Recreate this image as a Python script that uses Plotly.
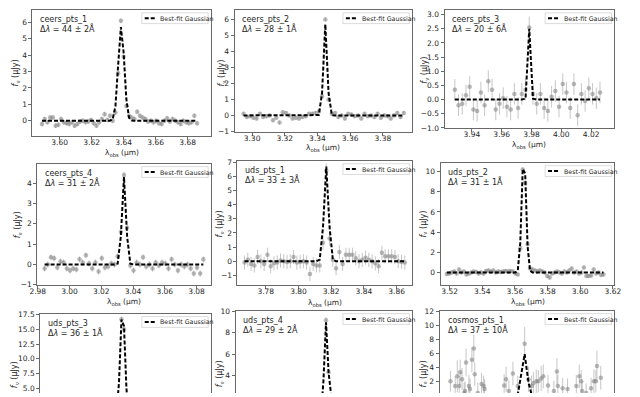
import numpy as np
import plotly.graph_objects as go

W, H = 640, 397

# ---------------- data ----------------
labels = ["ceers_pts_1", "ceers_pts_2", "ceers_pts_3",
          "ceers_pts_4", "uds_pts_1", "uds_pts_2",
          "uds_pts_3", "uds_pts_4", "cosmos_pts_1"]
dlam_text = ["44 ± 2", "28 ± 1", "20 ± 6", "31 ± 2", "33 ± 3", "31 ± 1", "36 ± 1", "29 ± 2", "37 ± 10"]
fit_fwhm_A = [44, 28, 20, 31, 33, 31, 36, 29, 37]
fit_center_um = [3.6385, 3.3448, 3.9785, 3.0343, 3.8170, 3.5655, 3.4830, 3.4564, 3.8175]
fit_amp_uJy = [5.75, 5.7, 2.5, 4.3, 6.7, 11.8, 18.5, 9.0, 5.9]

wave_1 = [3.5890, 3.5907, 3.5924, 3.5941, 3.5958, 3.5975, 3.5992, 3.6009, 3.6026, 3.6043,
          3.6060, 3.6077, 3.6094, 3.6111, 3.6128, 3.6145, 3.6162, 3.6179, 3.6196, 3.6213,
          3.6230, 3.6247, 3.6264, 3.6281, 3.6298, 3.6315, 3.6332, 3.6349, 3.6366, 3.6383,
          3.6400, 3.6417, 3.6434, 3.6451, 3.6468, 3.6485, 3.6502, 3.6519, 3.6536, 3.6553,
          3.6570, 3.6587, 3.6604, 3.6621, 3.6638, 3.6655, 3.6672, 3.6689, 3.6706, 3.6723,
          3.6740, 3.6757, 3.6774, 3.6791, 3.6808, 3.6825, 3.6842, 3.6859]
flux_1 = [-0.2, 0.1, -0.1, 0.2, 0.2, -0.3, -0.25, 0.1, -0.1, -0.15,
          -0.2, -0.1, -0.3, -0.2, -0.05, 0.0, -0.1, -0.05, 0.05, -0.15,
          -0.3, -0.1, 0.1, 0.4, 0.05, 0.3, 0.0, 0.5, 2.9, 6.1,
          3.9, 0.9, 0.3, 0.2, 0.1, 0.55, 0.3, 0.2, 0.1, -0.05,
          0.0, -0.1, 0.0, -0.15, -0.2, 0.0, 0.15, -0.05, 0.1, 0.0,
          -0.1, -0.2, 0.0, -0.1, -0.15, -0.1, 0.3, -0.15]
err_1 = 0.15

wave_2 = [3.2948, 3.2968, 3.2988, 3.3008, 3.3028, 3.3048, 3.3068, 3.3088, 3.3108, 3.3128,
          3.3148, 3.3168, 3.3188, 3.3208, 3.3228, 3.3248, 3.3268, 3.3288, 3.3308, 3.3328,
          3.3348, 3.3368, 3.3388, 3.3408, 3.3428, 3.3448, 3.3468, 3.3488, 3.3508, 3.3528,
          3.3548, 3.3568, 3.3588, 3.3608, 3.3628, 3.3648, 3.3668, 3.3688, 3.3708, 3.3728,
          3.3748, 3.3768, 3.3788, 3.3808, 3.3828, 3.3848, 3.3868, 3.3888, 3.3908, 3.3928]
flux_2 = [0.1, -0.1, -0.05, -0.15, -0.2, 0.1, -0.1, -0.05, 0.0, -0.3,
          -0.15, -0.45, 0.2, 0.15, 0.0, -0.2, -0.15, -0.2, -0.1, -0.05,
          0.1, 0.1, 0.15, 0.25, 1.2, 6.0, 1.0, 0.1, 0.15, -0.1,
          0.0, -0.2, 0.1, 0.05, -0.05, 0.0, -0.2, 0.1, -0.05, 0.0,
          -0.1, 0.1, -0.15, 0.0, -0.05, -0.2, 0.0, 0.15, -0.1, 0.15]
err_2 = 0.12

wave_3 = [3.9285, 3.9310, 3.9335, 3.9360, 3.9385, 3.9410, 3.9435, 3.9460, 3.9485, 3.9510,
          3.9535, 3.9560, 3.9585, 3.9610, 3.9635, 3.9660, 3.9685, 3.9710, 3.9735, 3.9760,
          3.9785, 3.9810, 3.9835, 3.9860, 3.9885, 3.9910, 3.9935, 3.9960, 3.9985, 4.0010,
          4.0035, 4.0060, 4.0085, 4.0110, 4.0135, 4.0160, 4.0185, 4.0210, 4.0235, 4.0260]
flux_3 = [0.35, -0.2, -0.15, 0.15, 0.45, -0.35, -0.4, 0.25, -0.2, 0.65,
          0.35, -0.35, -0.15, 0.05, -0.25, -0.35, 0.2, -0.3, 0.2, 0.35,
          2.55, 0.2, -0.15, 0.2, -0.3, -0.4, 0.1, 0.3, -0.25, 0.55,
          0.25, -0.3, 0.55, -0.55, 0.2, -0.05, 0.4, 0.2, 0.05, 0.25]
err_3 = 0.38

wave_4 = [2.9843, 2.9863, 2.9883, 2.9903, 2.9923, 2.9943, 2.9963, 2.9983, 3.0003, 3.0023,
          3.0043, 3.0063, 3.0083, 3.0103, 3.0123, 3.0143, 3.0163, 3.0183, 3.0203, 3.0223,
          3.0243, 3.0263, 3.0283, 3.0303, 3.0323, 3.0343, 3.0363, 3.0383, 3.0403, 3.0423,
          3.0443, 3.0463, 3.0483, 3.0503, 3.0523, 3.0543, 3.0563, 3.0583, 3.0603, 3.0623,
          3.0643, 3.0663, 3.0683, 3.0703, 3.0723, 3.0743, 3.0763, 3.0783, 3.0803, 3.0823, 3.0843]
flux_4 = [-0.2, 0.0, 0.35, 0.3, -0.15, 0.15, 0.1, -0.2, -0.3, -0.2,
          -0.25, 0.25, 0.1, 0.45, 0.05, -0.2, 0.1, -0.35, 0.3, -0.15,
          -0.1, 0.05, 0.0, 0.4, 1.6, 4.4, 1.8, -0.05, -0.3, 0.1,
          0.0, 0.35, -0.1, 0.0, -0.2, 0.1, -0.05, 0.1, 0.05, -0.2,
          0.25, 0.0, -0.3, 0.0, -0.1, 0.0, -0.2, -0.45, -0.15, -0.45, 0.25]
err_4 = 0.15

wave_5 = [3.7670, 3.7690, 3.7710, 3.7730, 3.7750, 3.7770, 3.7790, 3.7810, 3.7830, 3.7850,
          3.7870, 3.7890, 3.7910, 3.7930, 3.7950, 3.7970, 3.7990, 3.8010, 3.8030, 3.8050,
          3.8070, 3.8090, 3.8110, 3.8130, 3.8150, 3.8170, 3.8190, 3.8210, 3.8230, 3.8250,
          3.8270, 3.8290, 3.8310, 3.8330, 3.8350, 3.8370, 3.8390, 3.8410, 3.8430, 3.8450,
          3.8470, 3.8490, 3.8510, 3.8530, 3.8550, 3.8570, 3.8590, 3.8610, 3.8630, 3.8650]
flux_5 = [-0.1, 0.1, -0.2, -0.3, 0.3, 0.0, -0.2, 0.45, -0.35, -0.15,
          -0.1, 0.05, 0.0, -0.05, 0.0, 0.3, -0.1, -0.05, 0.0, -0.1,
          -0.9, -0.2, -0.3, -0.3, 1.3, 6.4, 1.6, 0.1, -0.5, 0.65,
          -0.2, 0.45, 0.45, 0.45, 0.2, 0.0, 0.1, 0.25, 0.1, 0.0,
          -0.15, -0.35, 0.6, 0.35, 0.35, 0.35, 0.3, 0.0, -0.05, -0.1]
err_5 = 0.5

wave_6 = [3.51830, 3.51980, 3.52130, 3.52280, 3.52430, 3.52580, 3.52730, 3.52880, 3.53030, 3.53180,
          3.53330, 3.53480, 3.53630, 3.53780, 3.53930, 3.54080, 3.54230, 3.54380, 3.54530, 3.54680,
          3.54830, 3.54980, 3.55130, 3.55280, 3.55430, 3.55580, 3.55730, 3.55880, 3.56030, 3.56180,
          3.56330, 3.56480, 3.56630, 3.56780, 3.56930, 3.57080, 3.57230, 3.57380, 3.57530, 3.57680,
          3.57830, 3.57980, 3.58130, 3.58280, 3.58430, 3.58580, 3.58730, 3.58880, 3.59030, 3.59180,
          3.59330, 3.59480, 3.59630, 3.59780, 3.59930, 3.60080, 3.60230, 3.60380, 3.60530, 3.60680,
          3.60830, 3.60980, 3.61130, 3.61280, 3.61430]
flux_6 = [-0.15, -0.1, 0.0, 0.1, -0.1, 0.3, 0.0, 0.1, -0.2, -0.1,
          0.0, 0.1, 0.05, -0.1, 0.0, -0.1, 0.15, 0.2, 0.1, 0.2,
          0.0, 0.1, 0.05, 0.1, 0.15, 0.1, 0.15, 0.1, -0.1, -0.2,
          2.4, 10.2, 8.9, 2.8, 0.4, 0.3, 0.2, 0.1, 0.2, 0.1,
          0.0, -0.35, -0.5, -0.1, 0.0, 0.1, 0.0, -0.1, 0.1, 0.0,
          0.2, 0.4, 0.0, 0.1, -0.1, 0.0, 0.5, -0.35, -0.35, -0.3,
          0.3, -0.1, 0.0, -0.25, -0.2]
err_6 = 0.2

wave_7 = [3.4775, 3.4791, 3.4807, 3.4823, 3.4839, 3.4855, 3.4871]
flux_7 = [0.1, -0.2, 1.2, 16.7, 15.0, 0.9, 0.2]
err_7 = 0.5

wave_8 = [3.4515, 3.4531, 3.4547, 3.4563, 3.4579, 3.4595, 3.4611]
flux_8 = [0.1, -0.1, 1.9, 9.15, 4.3, 0.3, -0.2]
err_8 = 0.3

wave_9 = [3.7708, 3.7738, 3.7751, 3.7763, 3.7769, 3.7781, 3.7794, 3.7800, 3.7806, 3.7824,
          3.7831, 3.7843, 3.7855, 3.7861, 3.7880, 3.7904, 3.7917, 3.7923, 3.8046, 3.8058,
          3.8076, 3.8101, 3.8132, 3.8175, 3.8199, 3.8218, 3.8230, 3.8248, 3.8261, 3.8279,
          3.8292, 3.8322, 3.8359, 3.8378, 3.8384, 3.8414, 3.8445, 3.8500, 3.8519, 3.8531,
          3.8537, 3.8562, 3.8593, 3.8611, 3.8623, 3.8630, 3.8654]
flux_9 = [2.0, 1.3, 2.7, 1.3, 3.3, 2.3, 0.3, 0.6, 4.7, 1.3,
          0.9, 5.1, 6.7, 3.0, 0.3, 1.6, 1.3, 0.9, 1.4, 2.3,
          0.6, 3.1, 1.3, 7.4, 2.3, 1.3, 1.7, 2.0, 2.0, 2.4,
          2.7, 1.4, 0.6, 3.4, 1.3, 1.0, 0.9, 1.3, 2.7, 2.0,
          0.6, 0.3, 1.0, 2.0, 2.0, 4.2, 2.5]
err_9 = [1.5, 1.4, 2.3, 1.5, 1.8, 1.6, 1.5, 1.4, 2.0, 1.6,
         1.5, 1.8, 2.0, 1.7, 1.5, 1.6, 1.5, 1.4, 1.6, 1.8,
         1.5, 1.7, 1.5, 2.4, 1.8, 1.5, 1.6, 1.7, 1.6, 1.8,
         1.7, 1.5, 1.5, 1.9, 1.6, 1.5, 1.5, 1.6, 1.7, 1.6,
         1.5, 1.4, 1.5, 1.7, 1.6, 2.2, 1.7]

waves = [wave_1, wave_2, wave_3, wave_4, wave_5, wave_6, wave_7, wave_8, wave_9]
fluxes = [flux_1, flux_2, flux_3, flux_4, flux_5, flux_6, flux_7, flux_8, flux_9]
errors = [err_1, err_2, err_3, err_4, err_5, err_6, err_7, err_8, err_9]

# ---------------- layout config (pixels) ----------------
boxes = [(25, 208, 6, 135), (232, 414, 6, 131), (447, 621, 6, 127),
         (30, 208, 163, 287), (235, 414, 160, 287), (443, 621, 162, 287),
         (33, 208, 316, 397), (233, 414, 313, 397), (442, 621, 313, 397)]
xranges = [(3.583, 3.6947), (3.2893, 3.398), (3.9216, 4.0357),
           (2.9797, 3.0892), (3.7627, 3.8696), (3.5145, 3.621),
           (3.43, 3.54), (3.40, 3.51), (3.764, 3.874)]
yranges = [(-0.95, 6.77), (-1.06, 6.6), (-1.02, 3.17),
           (-1.02, 4.95), (-1.7, 7.1), (-1.26, 10.87),
           (4.17, 17.67), (2.36, 10.05), (0.31, 12.14)]
ydticks = [1, 1, 0.5, 1, 1, 2, 2.5, 2, 2]
yformats = ["d", "d", ".1f", "d", "d", "d", ".1f", "d", "d"]
ytitle_px = [(8, 70), (219, 70), (427, 67), (11, 225), (218, 224), (426, 225),
             (8, 378), (218, 377), (426, 378)]
xtitle_dy = [17, 16, 17, 17, 18, 17, None, None, None]

FONT = "DejaVu Sans"
AX_COL = "rgb(105,105,105)"
TXT_COL = "#262626"


def X(px):
    return px / W


def Y(py):
    return 1 - py / H


fig = go.Figure()
annotations = []
shapes = []

for i in range(9):
    n = i + 1
    xs = "" if n == 1 else str(n)
    x0, x1, y0, y1 = boxes[i]
    bottom_row = i >= 6
    wl = np.array(waves[i])
    fl = np.array(fluxes[i])
    err = errors[i]
    if isinstance(err, list):
        ey = dict(type="data", array=err, visible=True)
    else:
        ey = dict(type="constant", value=err, visible=True)
    ey.update(color="rgba(128,128,128,0.45)", thickness=1, width=0)

    fig.add_trace(go.Scatter(
        x=wl, y=fl, mode="markers", error_y=ey,
        marker=dict(color="rgba(128,128,128,0.55)", size=4.5, line=dict(width=0)),
        xaxis="x" + xs, yaxis="y" + xs, showlegend=False, hoverinfo="skip"))

    sigma = fit_fwhm_A[i] * 1e-4 / (2 * np.sqrt(2 * np.log(2)))
    model = fit_amp_uJy[i] * np.exp(-0.5 * ((wl - fit_center_um[i]) / sigma) ** 2)
    fig.add_trace(go.Scatter(
        x=wl, y=model, mode="lines",
        line=dict(color="black", width=2, dash="4px,2px"),
        xaxis="x" + xs, yaxis="y" + xs, showlegend=False, hoverinfo="skip"))

    xaxis = dict(domain=[X(x0), X(x1)], range=list(xranges[i]), anchor="y" + xs,
                 showgrid=False, zeroline=False, showline=True, linecolor=AX_COL, linewidth=1,
                 ticks="outside", ticklen=3, tickwidth=0.8, tickcolor=AX_COL,
                 dtick=0.02, tick0=0, tickformat=".2f", ticklabelstandoff=-4,
                 tickfont=dict(family=FONT, size=7.5, color=TXT_COL))
    if bottom_row:
        xaxis.update(side="top", mirror=False, showticklabels=False, ticks="")
    else:
        xaxis.update(mirror=True)
    yaxis = dict(domain=[Y(y1), Y(y0)], range=list(yranges[i]), anchor="x" + xs,
                 showgrid=False, zeroline=False, showline=True, linecolor=AX_COL, linewidth=1,
                 mirror=True, ticks="outside", ticklen=3, tickwidth=0.8, tickcolor=AX_COL,
                 dtick=ydticks[i], tick0=0, tickformat=yformats[i],
                 tickfont=dict(family=FONT, size=7.5, color=TXT_COL))
    fig.update_layout({"xaxis" + xs: xaxis, "yaxis" + xs: yaxis})

    # panel label
    annotations.append(dict(
        x=X(x0 + 6), y=Y(y0 + 3), xref="paper", yref="paper", xanchor="left", yanchor="top",
        align="left", showarrow=False,
        text=f"{labels[i]}<br>Δ<i>λ</i> = {dlam_text[i]}Å",
        font=dict(family=FONT, size=8, color=TXT_COL)))

    # y title
    tx, ty = ytitle_px[i]
    annotations.append(dict(
        x=X(tx), y=Y(ty), xref="paper", yref="paper", xanchor="center", yanchor="middle",
        showarrow=False, textangle=-90, text="<i>f</i><sub>ν</sub> (μJy)",
        font=dict(family=FONT, size=8, color=TXT_COL)))

    # x title
    if xtitle_dy[i] is not None:
        annotations.append(dict(
            x=X((x0 + x1) / 2), y=Y(y1 + xtitle_dy[i]), xref="paper", yref="paper",
            xanchor="center", yanchor="middle", showarrow=False,
            text="λ<sub>obs</sub> (μm)", font=dict(family=FONT, size=7.5, color=TXT_COL)))

    # legend (manual, per panel)
    lr, lt = x1 - 3, y0 + 3
    ll, lb = lr - 68, lt + 11
    shapes.append(dict(type="rect", xref="paper", yref="paper",
                       x0=X(ll), x1=X(lr), y0=Y(lb), y1=Y(lt),
                       line=dict(color="rgba(0,0,0,0.18)", width=0.8),
                       fillcolor="white", layer="above"))
    ym = (lt + lb) / 2
    shapes.append(dict(type="line", xref="paper", yref="paper",
                       x0=X(ll + 3), x1=X(ll + 15), y0=Y(ym), y1=Y(ym),
                       line=dict(color="black", width=2, dash="4px,2px"), layer="above"))
    annotations.append(dict(
        x=X(ll + 17), y=Y(ym), xref="paper", yref="paper", xanchor="left", yanchor="middle",
        showarrow=False, text="Best-fit Gaussian",
        font=dict(family=FONT, size=6.3, color=TXT_COL)))

fig.update_layout(
    width=W, height=H, margin=dict(l=0, r=0, t=0, b=0),
    paper_bgcolor="white", plot_bgcolor="white", showlegend=False,
    annotations=annotations, shapes=shapes,
    font=dict(family=FONT))

fig.write_html("out.html", config={"displayModeBar": False},
               post_script="document.body.style.margin='0px';document.body.style.overflow='hidden';")
